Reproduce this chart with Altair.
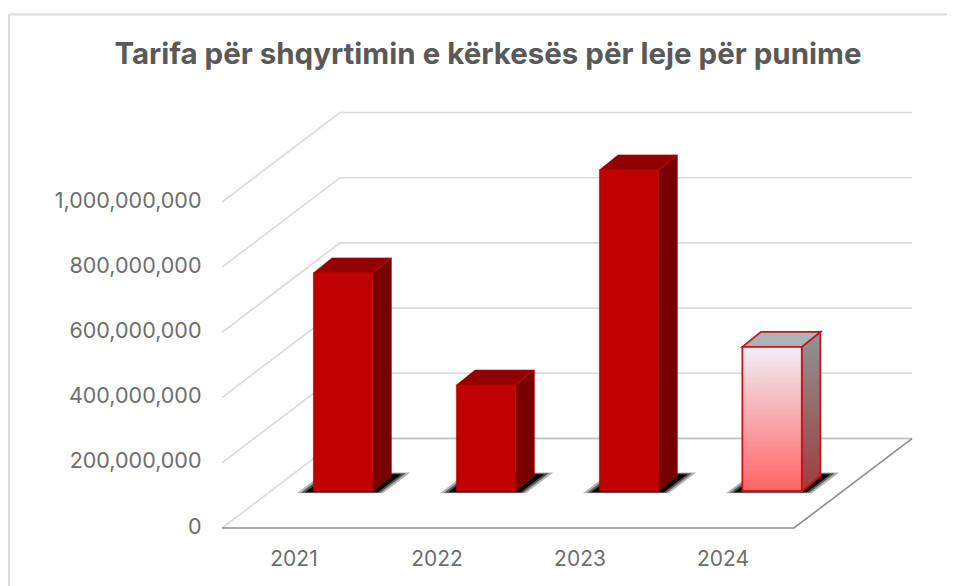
import altair as alt
import pandas as pd

TITLE = "Tarifa për shqyrtimin e kërkesës për leje për punime"
years = [2021, 2022, 2023, 2024]
values = [669e6, 325e6, 985e6, 442e6]
ticks = [0, 200e6, 400e6, 600e6, 800e6, 1000e6]

# oblique projection, expressed in axis units
WALL_DX, WALL_DY = 0.825, 274.5e6      # depth of floor
BAR_L, BAR_R = 0.139, 0.5545           # bar front face relative to its year
BAR_BASE = 113.5e6                     # lift of the bars' front base on the floor
BAR_DX, BAR_DY = 0.13, 46e6            # depth of a bar
X0, X1 = 2020.5, 2020.5 + 690 / 143
floor_end = 2024.5

xs = alt.Scale(domain=[X0, X1], nice=False, zero=False)
ys = alt.Scale(domain=[0, 428 / 326 * 1e9], nice=False, zero=False)
x_axis = alt.Axis(values=years, format="d", domain=False, ticks=False, grid=False, title=None,
                  labelFont="Inter", labelFontSize=21, labelColor="#6e6e6e", labelPadding=20)
y_axis = alt.Axis(values=ticks, format=",.0f", domain=False, ticks=False, grid=False, title=None,
                  labelFont="Inter", labelFontSize=21.5, labelColor="#6e6e6e", labelPadding=21,
                  labelOffset=-1)
X = alt.X("x:Q", scale=xs, axis=x_axis)
Y = alt.Y("y:Q", scale=ys, axis=y_axis)

# gridlines
grid_rows = []
for t in ticks:
    grid_rows += [
        dict(level=t, o=0, x=X0, y=t),
        dict(level=t, o=1, x=X0 + WALL_DX, y=t + WALL_DY),
        dict(level=t, o=2, x=X1, y=t + WALL_DY),
    ]
grid_df = pd.DataFrame(grid_rows)
grid = alt.Chart(grid_df).mark_line(color="#dadada", strokeWidth=1.6).encode(
    x=X, y=Y, detail="level:N", order="o:Q")

# floor edges
back_df = pd.DataFrame(dict(x=[X0 + WALL_DX, X1], y=[WALL_DY, WALL_DY]))
back = alt.Chart(back_df).mark_line(color="#c0c0c0", strokeWidth=1.6).encode(x=X, y=Y)
edge_df = pd.DataFrame(dict(x=[X0, floor_end, X1], y=[0, 0, WALL_DY]))
edge = alt.Chart(edge_df).mark_line(color="#8e8e8e", strokeWidth=1.6).encode(x=X, y=Y, order=alt.Order("x:Q"))

# shadows (nested translucent parallelograms for a soft edge)
shadow_layers = []
for grow, op in [(1.0, 0.3), (0.75, 0.5), (0.5, 0.95)]:
    rows = []
    for yr in years:
        l = yr + BAR_L - 0.115 * grow
        r = yr + BAR_R + 0.07 * grow
        low = BAR_BASE - 7e6 * grow
        high = BAR_BASE + 46e6 + 11e6 * grow
        shift = (high - low) / WALL_DY * WALL_DX
        rows += [dict(year=yr, y=low, x=l, x2=r), dict(year=yr, y=high, x=l + shift, x2=r + shift)]
    shadow_layers.append(
        alt.Chart(pd.DataFrame(rows)).mark_area(orient="horizontal", color="#000000", opacity=op).encode(
            y=Y, x=X, x2="x2:Q", detail="year:N"))

def side_rows(yr, v):
    r = yr + BAR_R
    return [dict(year=yr, x=r, y=BAR_BASE + v, y2=BAR_BASE),
            dict(year=yr, x=r + BAR_DX, y=BAR_BASE + v + BAR_DY, y2=BAR_BASE + BAR_DY)]

def top_rows(yr, v):
    return [dict(year=yr, y=BAR_BASE + v, x=yr + BAR_L, x2=yr + BAR_R),
            dict(year=yr, y=BAR_BASE + v + BAR_DY, x=yr + BAR_L + BAR_DX, x2=yr + BAR_R + BAR_DX)]

solid = list(zip(years[:3], values[:3]))
last = [(years[3], values[3])]

def grad(a, b):
    return alt.LinearGradient(gradient="linear", x1=0, x2=0, y1=0, y2=1,
                              stops=[alt.GradientStop(offset=0, color=a), alt.GradientStop(offset=1, color=b)])

def faces(items, side_fill, top_fill, front_fill, stroke, sw):
    sd = pd.DataFrame([r for yr, v in items for r in side_rows(yr, v)])
    td = pd.DataFrame([r for yr, v in items for r in top_rows(yr, v)])
    fd = pd.DataFrame([dict(x=yr + BAR_L, x2=yr + BAR_R, y=BAR_BASE + v, y2=BAR_BASE) for yr, v in items])
    return [
        alt.Chart(sd).mark_area(color=side_fill, stroke=stroke, strokeWidth=sw).encode(
            x=X, y=Y, y2="y2:Q", detail="year:N"),
        alt.Chart(td).mark_area(orient="horizontal", color=top_fill, stroke=stroke, strokeWidth=sw).encode(
            y=Y, x=X, x2="x2:Q", detail="year:N"),
        alt.Chart(fd).mark_rect(color=front_fill, stroke=stroke, strokeWidth=sw).encode(
            x=X, x2="x2:Q", y=Y, y2="y2:Q"),
    ]

solid_faces = faces(solid, "#780000", "#930000", "#c00000", "#c00000", 0.6)
last_faces = faces(last, grad("#8f9496", "#a03c3c"), "#aeb3b6",
                   grad("#f2eff7", "#ff6363"), "#c9141c", 1.8)

# chart frame (top and left only, as in the picture)
frame_top = alt.Chart(pd.DataFrame(dict(a=[0]))).mark_rule(color="#dcdcdc", strokeWidth=2).encode(
    x=alt.value(-213), x2=alt.value(725), y=alt.value(-85.5))
frame_left = alt.Chart(pd.DataFrame(dict(a=[0]))).mark_rule(color="#dcdcdc", strokeWidth=2).encode(
    x=alt.value(-213), y=alt.value(-85.5), y2=alt.value(486))

chart = alt.layer(
    frame_top, frame_left, grid, back, edge, *shadow_layers, *solid_faces, *last_faces
).properties(
    width=690, height=428,
    title=alt.TitleParams(TITLE, font="Inter", fontSize=29.5, fontWeight=700, color="#595959",
                          anchor="middle", frame="group", dx=-79, offset=-57),
    autosize=alt.AutoSizeParams(type="none"),
    padding={"left": 214, "top": 92, "right": 35, "bottom": 58},
    background="#ffffff",
).configure_view(stroke=None)

chart.save("out.html", embed_options={"renderer": "svg", "actions": False})
